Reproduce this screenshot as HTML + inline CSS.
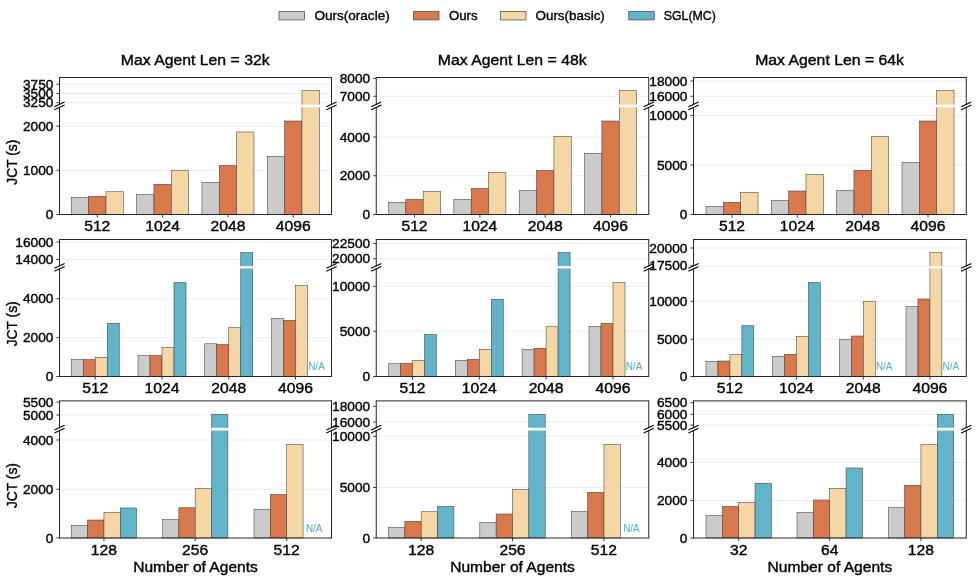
<!DOCTYPE html>
<html lang="en"><head><meta charset="utf-8"><title>JCT comparison</title>
<style>html,body{margin:0;padding:0;background:#fff;}body{width:977px;height:580px;overflow:hidden;}svg{display:block;will-change:transform;}text{font-family:"Liberation Sans", sans-serif;}</style></head>
<body>
<svg width="977" height="580" viewBox="0 0 977 580" font-family='"Liberation Sans", sans-serif'>
<rect x="0" y="0" width="977" height="580" fill="#ffffff"/>
<rect x="279" y="11.4" width="25.5" height="8.5" fill="#cbcbcb" stroke="#555555" stroke-width="0.8"/>
<text x="314.5" y="20" font-size="12.46" fill="#000" stroke="#000" stroke-width="0.36" textLength="75.17" lengthAdjust="spacingAndGlyphs">Ours(oracle)</text>
<rect x="413.5" y="11.4" width="25.5" height="8.5" fill="#d9774d" stroke="#555555" stroke-width="0.8"/>
<text x="449" y="20" font-size="12.46" fill="#000" stroke="#000" stroke-width="0.36" textLength="28.47" lengthAdjust="spacingAndGlyphs">Ours</text>
<rect x="500.5" y="11.4" width="25.5" height="8.5" fill="#f5d6a5" stroke="#555555" stroke-width="0.8"/>
<text x="535.5" y="20" font-size="12.46" fill="#000" stroke="#000" stroke-width="0.36" textLength="69.33" lengthAdjust="spacingAndGlyphs">Ours(basic)</text>
<rect x="628.75" y="11.4" width="25.5" height="8.5" fill="#62b4ca" stroke="#555555" stroke-width="0.8"/>
<text x="663.75" y="20" font-size="12.46" fill="#000" stroke="#000" stroke-width="0.36" textLength="52.13" lengthAdjust="spacingAndGlyphs">SGL(MC)</text>
<line x1="59.5" y1="170.25" x2="331.5" y2="170.25" stroke="#e9e9e9" stroke-width="0.8"/>
<line x1="59.5" y1="126.25" x2="331.5" y2="126.25" stroke="#e9e9e9" stroke-width="0.8"/>
<line x1="59.5" y1="102.75" x2="331.5" y2="102.75" stroke="#e9e9e9" stroke-width="0.8"/>
<line x1="59.5" y1="93.5" x2="331.5" y2="93.5" stroke="#e9e9e9" stroke-width="0.8"/>
<line x1="59.5" y1="84.2" x2="331.5" y2="84.2" stroke="#e9e9e9" stroke-width="0.8"/>
<rect x="71.25" y="197.5" width="17.35" height="17" fill="#cbcbcb" stroke="#404040" stroke-width="0.55"/>
<rect x="88.6" y="196.25" width="17.35" height="18.25" fill="#d9774d" stroke="#404040" stroke-width="0.55"/>
<rect x="105.95" y="191.75" width="17.35" height="22.75" fill="#f5d6a5" stroke="#404040" stroke-width="0.55"/>
<rect x="136.6" y="194.5" width="17.35" height="20" fill="#cbcbcb" stroke="#404040" stroke-width="0.55"/>
<rect x="153.95" y="184.25" width="17.35" height="30.25" fill="#d9774d" stroke="#404040" stroke-width="0.55"/>
<rect x="171.3" y="170.25" width="17.35" height="44.25" fill="#f5d6a5" stroke="#404040" stroke-width="0.55"/>
<rect x="201.9" y="182.25" width="17.35" height="32.25" fill="#cbcbcb" stroke="#404040" stroke-width="0.55"/>
<rect x="219.25" y="165.5" width="17.35" height="49" fill="#d9774d" stroke="#404040" stroke-width="0.55"/>
<rect x="236.6" y="132" width="17.35" height="82.5" fill="#f5d6a5" stroke="#404040" stroke-width="0.55"/>
<rect x="267.25" y="156.25" width="17.35" height="58.25" fill="#cbcbcb" stroke="#404040" stroke-width="0.55"/>
<rect x="284.6" y="121" width="17.35" height="93.5" fill="#d9774d" stroke="#404040" stroke-width="0.55"/>
<rect x="301.95" y="90.5" width="17.35" height="124" fill="#f5d6a5" stroke="#404040" stroke-width="0.55"/>
<rect x="301.15" y="104.6" width="18.95" height="2.7" fill="#ffffff"/>
<line x1="59.5" y1="77" x2="59.5" y2="215" stroke="#262626" stroke-width="1"/>
<line x1="331.5" y1="77" x2="331.5" y2="215" stroke="#262626" stroke-width="1"/>
<line x1="59.5" y1="77.5" x2="331.5" y2="77.5" stroke="#262626" stroke-width="1"/>
<line x1="59.5" y1="214.5" x2="331.5" y2="214.5" stroke="#262626" stroke-width="1"/>
<rect x="58.3" y="104.85" width="2.4" height="2.2" fill="#ffffff"/>
<line x1="54.4" y1="106.85" x2="64.6" y2="102.05" stroke="#000" stroke-width="1.1"/>
<line x1="54.4" y1="109.85" x2="64.6" y2="105.05" stroke="#000" stroke-width="1.1"/>
<rect x="330.3" y="104.85" width="2.4" height="2.2" fill="#ffffff"/>
<line x1="326.4" y1="106.85" x2="336.6" y2="102.05" stroke="#000" stroke-width="1.1"/>
<line x1="326.4" y1="109.85" x2="336.6" y2="105.05" stroke="#000" stroke-width="1.1"/>
<line x1="56.4" y1="214.5" x2="59.5" y2="214.5" stroke="#262626" stroke-width="0.9"/>
<text x="45.87" y="219" font-size="12.57" fill="#000" stroke="#000" stroke-width="0.36" textLength="7.63" lengthAdjust="spacingAndGlyphs">0</text>
<line x1="56.4" y1="170.25" x2="59.5" y2="170.25" stroke="#262626" stroke-width="0.9"/>
<text x="22.96" y="174.75" font-size="12.57" fill="#000" stroke="#000" stroke-width="0.36" textLength="30.54" lengthAdjust="spacingAndGlyphs">1000</text>
<line x1="56.4" y1="126.25" x2="59.5" y2="126.25" stroke="#262626" stroke-width="0.9"/>
<text x="22.96" y="130.75" font-size="12.57" fill="#000" stroke="#000" stroke-width="0.36" textLength="30.54" lengthAdjust="spacingAndGlyphs">2000</text>
<line x1="56.4" y1="102.75" x2="59.5" y2="102.75" stroke="#262626" stroke-width="0.9"/>
<text x="22.96" y="107.25" font-size="12.57" fill="#000" stroke="#000" stroke-width="0.36" textLength="30.54" lengthAdjust="spacingAndGlyphs">3250</text>
<line x1="56.4" y1="93.5" x2="59.5" y2="93.5" stroke="#262626" stroke-width="0.9"/>
<text x="22.96" y="98" font-size="12.57" fill="#000" stroke="#000" stroke-width="0.36" textLength="30.54" lengthAdjust="spacingAndGlyphs">3500</text>
<line x1="56.4" y1="84.2" x2="59.5" y2="84.2" stroke="#262626" stroke-width="0.9"/>
<text x="22.96" y="88.7" font-size="12.57" fill="#000" stroke="#000" stroke-width="0.36" textLength="30.54" lengthAdjust="spacingAndGlyphs">3750</text>
<line x1="97.28" y1="214.5" x2="97.28" y2="217.6" stroke="#262626" stroke-width="0.9"/>
<text x="84.2" y="231.2" font-size="14.11" fill="#000" stroke="#000" stroke-width="0.36" textLength="26.15" lengthAdjust="spacingAndGlyphs">512</text>
<line x1="162.62" y1="214.5" x2="162.62" y2="217.6" stroke="#262626" stroke-width="0.9"/>
<text x="145.19" y="231.2" font-size="14.11" fill="#000" stroke="#000" stroke-width="0.36" textLength="34.87" lengthAdjust="spacingAndGlyphs">1024</text>
<line x1="227.93" y1="214.5" x2="227.93" y2="217.6" stroke="#262626" stroke-width="0.9"/>
<text x="210.49" y="231.2" font-size="14.11" fill="#000" stroke="#000" stroke-width="0.36" textLength="34.87" lengthAdjust="spacingAndGlyphs">2048</text>
<line x1="293.27" y1="214.5" x2="293.27" y2="217.6" stroke="#262626" stroke-width="0.9"/>
<text x="275.84" y="231.2" font-size="14.11" fill="#000" stroke="#000" stroke-width="0.36" textLength="34.87" lengthAdjust="spacingAndGlyphs">4096</text>
<text x="120.8" y="65" font-size="14.11" fill="#000" stroke="#000" stroke-width="0.36" textLength="148.8" lengthAdjust="spacingAndGlyphs">Max Agent Len = 32k</text>
<text transform="translate(17.0 162.2) rotate(-90)" x="-22.5" y="0" font-size="14.11" fill="#000" stroke="#000" stroke-width="0.36" textLength="45" lengthAdjust="spacingAndGlyphs">JCT (s)</text>
<line x1="376.25" y1="175.75" x2="648.75" y2="175.75" stroke="#e9e9e9" stroke-width="0.8"/>
<line x1="376.25" y1="137" x2="648.75" y2="137" stroke="#e9e9e9" stroke-width="0.8"/>
<line x1="376.25" y1="96.25" x2="648.75" y2="96.25" stroke="#e9e9e9" stroke-width="0.8"/>
<rect x="388.5" y="202.25" width="17.35" height="12.25" fill="#cbcbcb" stroke="#404040" stroke-width="0.55"/>
<rect x="405.85" y="199.25" width="17.35" height="15.25" fill="#d9774d" stroke="#404040" stroke-width="0.55"/>
<rect x="423.2" y="191.25" width="17.35" height="23.25" fill="#f5d6a5" stroke="#404040" stroke-width="0.55"/>
<rect x="453.85" y="199.5" width="17.35" height="15" fill="#cbcbcb" stroke="#404040" stroke-width="0.55"/>
<rect x="471.2" y="188.5" width="17.35" height="26" fill="#d9774d" stroke="#404040" stroke-width="0.55"/>
<rect x="488.55" y="172.5" width="17.35" height="42" fill="#f5d6a5" stroke="#404040" stroke-width="0.55"/>
<rect x="519.2" y="190.5" width="17.35" height="24" fill="#cbcbcb" stroke="#404040" stroke-width="0.55"/>
<rect x="536.55" y="170.5" width="17.35" height="44" fill="#d9774d" stroke="#404040" stroke-width="0.55"/>
<rect x="553.9" y="136.25" width="17.35" height="78.25" fill="#f5d6a5" stroke="#404040" stroke-width="0.55"/>
<rect x="584.55" y="153.25" width="17.35" height="61.25" fill="#cbcbcb" stroke="#404040" stroke-width="0.55"/>
<rect x="601.9" y="121" width="17.35" height="93.5" fill="#d9774d" stroke="#404040" stroke-width="0.55"/>
<rect x="619.25" y="90.5" width="17.35" height="124" fill="#f5d6a5" stroke="#404040" stroke-width="0.55"/>
<rect x="618.45" y="104.6" width="18.95" height="2.7" fill="#ffffff"/>
<line x1="376.25" y1="77" x2="376.25" y2="215" stroke="#262626" stroke-width="1"/>
<line x1="648.75" y1="77" x2="648.75" y2="215" stroke="#262626" stroke-width="1"/>
<line x1="376.25" y1="77.5" x2="648.75" y2="77.5" stroke="#262626" stroke-width="1"/>
<line x1="376.25" y1="214.5" x2="648.75" y2="214.5" stroke="#262626" stroke-width="1"/>
<rect x="375.05" y="104.85" width="2.4" height="2.2" fill="#ffffff"/>
<line x1="371.15" y1="106.85" x2="381.35" y2="102.05" stroke="#000" stroke-width="1.1"/>
<line x1="371.15" y1="109.85" x2="381.35" y2="105.05" stroke="#000" stroke-width="1.1"/>
<rect x="647.55" y="104.85" width="2.4" height="2.2" fill="#ffffff"/>
<line x1="643.65" y1="106.85" x2="653.85" y2="102.05" stroke="#000" stroke-width="1.1"/>
<line x1="643.65" y1="109.85" x2="653.85" y2="105.05" stroke="#000" stroke-width="1.1"/>
<line x1="373.15" y1="214.5" x2="376.25" y2="214.5" stroke="#262626" stroke-width="0.9"/>
<text x="362.62" y="219" font-size="12.57" fill="#000" stroke="#000" stroke-width="0.36" textLength="7.63" lengthAdjust="spacingAndGlyphs">0</text>
<line x1="373.15" y1="175.75" x2="376.25" y2="175.75" stroke="#262626" stroke-width="0.9"/>
<text x="339.71" y="180.25" font-size="12.57" fill="#000" stroke="#000" stroke-width="0.36" textLength="30.54" lengthAdjust="spacingAndGlyphs">2000</text>
<line x1="373.15" y1="137" x2="376.25" y2="137" stroke="#262626" stroke-width="0.9"/>
<text x="339.71" y="141.5" font-size="12.57" fill="#000" stroke="#000" stroke-width="0.36" textLength="30.54" lengthAdjust="spacingAndGlyphs">4000</text>
<line x1="373.15" y1="96.25" x2="376.25" y2="96.25" stroke="#262626" stroke-width="0.9"/>
<text x="339.71" y="100.75" font-size="12.57" fill="#000" stroke="#000" stroke-width="0.36" textLength="30.54" lengthAdjust="spacingAndGlyphs">7000</text>
<line x1="373.15" y1="78.5" x2="376.25" y2="78.5" stroke="#262626" stroke-width="0.9"/>
<text x="339.71" y="83" font-size="12.57" fill="#000" stroke="#000" stroke-width="0.36" textLength="30.54" lengthAdjust="spacingAndGlyphs">8000</text>
<line x1="414.52" y1="214.5" x2="414.52" y2="217.6" stroke="#262626" stroke-width="0.9"/>
<text x="401.45" y="231.2" font-size="14.11" fill="#000" stroke="#000" stroke-width="0.36" textLength="26.15" lengthAdjust="spacingAndGlyphs">512</text>
<line x1="479.88" y1="214.5" x2="479.88" y2="217.6" stroke="#262626" stroke-width="0.9"/>
<text x="462.44" y="231.2" font-size="14.11" fill="#000" stroke="#000" stroke-width="0.36" textLength="34.87" lengthAdjust="spacingAndGlyphs">1024</text>
<line x1="545.23" y1="214.5" x2="545.23" y2="217.6" stroke="#262626" stroke-width="0.9"/>
<text x="527.79" y="231.2" font-size="14.11" fill="#000" stroke="#000" stroke-width="0.36" textLength="34.87" lengthAdjust="spacingAndGlyphs">2048</text>
<line x1="610.57" y1="214.5" x2="610.57" y2="217.6" stroke="#262626" stroke-width="0.9"/>
<text x="593.14" y="231.2" font-size="14.11" fill="#000" stroke="#000" stroke-width="0.36" textLength="34.87" lengthAdjust="spacingAndGlyphs">4096</text>
<text x="437.8" y="65" font-size="14.11" fill="#000" stroke="#000" stroke-width="0.36" textLength="148.8" lengthAdjust="spacingAndGlyphs">Max Agent Len = 48k</text>
<line x1="693.5" y1="165" x2="966.25" y2="165" stroke="#e9e9e9" stroke-width="0.8"/>
<line x1="693.5" y1="115.5" x2="966.25" y2="115.5" stroke="#e9e9e9" stroke-width="0.8"/>
<line x1="693.5" y1="96.25" x2="966.25" y2="96.25" stroke="#e9e9e9" stroke-width="0.8"/>
<line x1="693.5" y1="81" x2="966.25" y2="81" stroke="#e9e9e9" stroke-width="0.8"/>
<rect x="706" y="206.25" width="17.35" height="8.25" fill="#cbcbcb" stroke="#404040" stroke-width="0.55"/>
<rect x="723.35" y="202.25" width="17.35" height="12.25" fill="#d9774d" stroke="#404040" stroke-width="0.55"/>
<rect x="740.7" y="192.25" width="17.35" height="22.25" fill="#f5d6a5" stroke="#404040" stroke-width="0.55"/>
<rect x="771.3" y="200.25" width="17.35" height="14.25" fill="#cbcbcb" stroke="#404040" stroke-width="0.55"/>
<rect x="788.65" y="191" width="17.35" height="23.5" fill="#d9774d" stroke="#404040" stroke-width="0.55"/>
<rect x="806" y="174.25" width="17.35" height="40.25" fill="#f5d6a5" stroke="#404040" stroke-width="0.55"/>
<rect x="836.6" y="190.25" width="17.35" height="24.25" fill="#cbcbcb" stroke="#404040" stroke-width="0.55"/>
<rect x="853.95" y="170.25" width="17.35" height="44.25" fill="#d9774d" stroke="#404040" stroke-width="0.55"/>
<rect x="871.3" y="136.25" width="17.35" height="78.25" fill="#f5d6a5" stroke="#404040" stroke-width="0.55"/>
<rect x="902" y="162.25" width="17.35" height="52.25" fill="#cbcbcb" stroke="#404040" stroke-width="0.55"/>
<rect x="919.35" y="121" width="17.35" height="93.5" fill="#d9774d" stroke="#404040" stroke-width="0.55"/>
<rect x="936.7" y="90.5" width="17.35" height="124" fill="#f5d6a5" stroke="#404040" stroke-width="0.55"/>
<rect x="935.9" y="104.6" width="18.95" height="2.7" fill="#ffffff"/>
<line x1="693.5" y1="77" x2="693.5" y2="215" stroke="#262626" stroke-width="1"/>
<line x1="966.25" y1="77" x2="966.25" y2="215" stroke="#262626" stroke-width="1"/>
<line x1="693.5" y1="77.5" x2="966.25" y2="77.5" stroke="#262626" stroke-width="1"/>
<line x1="693.5" y1="214.5" x2="966.25" y2="214.5" stroke="#262626" stroke-width="1"/>
<rect x="692.3" y="104.85" width="2.4" height="2.2" fill="#ffffff"/>
<line x1="688.4" y1="106.85" x2="698.6" y2="102.05" stroke="#000" stroke-width="1.1"/>
<line x1="688.4" y1="109.85" x2="698.6" y2="105.05" stroke="#000" stroke-width="1.1"/>
<rect x="965.05" y="104.85" width="2.4" height="2.2" fill="#ffffff"/>
<line x1="961.15" y1="106.85" x2="971.35" y2="102.05" stroke="#000" stroke-width="1.1"/>
<line x1="961.15" y1="109.85" x2="971.35" y2="105.05" stroke="#000" stroke-width="1.1"/>
<line x1="690.4" y1="214.5" x2="693.5" y2="214.5" stroke="#262626" stroke-width="0.9"/>
<text x="679.87" y="219" font-size="12.57" fill="#000" stroke="#000" stroke-width="0.36" textLength="7.63" lengthAdjust="spacingAndGlyphs">0</text>
<line x1="690.4" y1="165" x2="693.5" y2="165" stroke="#262626" stroke-width="0.9"/>
<text x="656.96" y="169.5" font-size="12.57" fill="#000" stroke="#000" stroke-width="0.36" textLength="30.54" lengthAdjust="spacingAndGlyphs">5000</text>
<line x1="690.4" y1="115.5" x2="693.5" y2="115.5" stroke="#262626" stroke-width="0.9"/>
<text x="649.33" y="120" font-size="12.57" fill="#000" stroke="#000" stroke-width="0.36" textLength="38.17" lengthAdjust="spacingAndGlyphs">10000</text>
<line x1="690.4" y1="96.25" x2="693.5" y2="96.25" stroke="#262626" stroke-width="0.9"/>
<text x="649.33" y="100.75" font-size="12.57" fill="#000" stroke="#000" stroke-width="0.36" textLength="38.17" lengthAdjust="spacingAndGlyphs">16000</text>
<line x1="690.4" y1="81" x2="693.5" y2="81" stroke="#262626" stroke-width="0.9"/>
<text x="649.33" y="85.5" font-size="12.57" fill="#000" stroke="#000" stroke-width="0.36" textLength="38.17" lengthAdjust="spacingAndGlyphs">18000</text>
<line x1="732.02" y1="214.5" x2="732.02" y2="217.6" stroke="#262626" stroke-width="0.9"/>
<text x="718.95" y="231.2" font-size="14.11" fill="#000" stroke="#000" stroke-width="0.36" textLength="26.15" lengthAdjust="spacingAndGlyphs">512</text>
<line x1="797.32" y1="214.5" x2="797.32" y2="217.6" stroke="#262626" stroke-width="0.9"/>
<text x="779.89" y="231.2" font-size="14.11" fill="#000" stroke="#000" stroke-width="0.36" textLength="34.87" lengthAdjust="spacingAndGlyphs">1024</text>
<line x1="862.62" y1="214.5" x2="862.62" y2="217.6" stroke="#262626" stroke-width="0.9"/>
<text x="845.19" y="231.2" font-size="14.11" fill="#000" stroke="#000" stroke-width="0.36" textLength="34.87" lengthAdjust="spacingAndGlyphs">2048</text>
<line x1="928.02" y1="214.5" x2="928.02" y2="217.6" stroke="#262626" stroke-width="0.9"/>
<text x="910.59" y="231.2" font-size="14.11" fill="#000" stroke="#000" stroke-width="0.36" textLength="34.87" lengthAdjust="spacingAndGlyphs">4096</text>
<text x="755.18" y="65" font-size="14.11" fill="#000" stroke="#000" stroke-width="0.36" textLength="148.8" lengthAdjust="spacingAndGlyphs">Max Agent Len = 64k</text>
<line x1="59.5" y1="337.6" x2="331.5" y2="337.6" stroke="#e9e9e9" stroke-width="0.8"/>
<line x1="59.5" y1="298.75" x2="331.5" y2="298.75" stroke="#e9e9e9" stroke-width="0.8"/>
<line x1="59.5" y1="259.5" x2="331.5" y2="259.5" stroke="#e9e9e9" stroke-width="0.8"/>
<line x1="59.5" y1="242" x2="331.5" y2="242" stroke="#e9e9e9" stroke-width="0.8"/>
<rect x="71.25" y="359.5" width="12" height="17" fill="#cbcbcb" stroke="#404040" stroke-width="0.55"/>
<rect x="83.25" y="359.5" width="12" height="17" fill="#d9774d" stroke="#404040" stroke-width="0.55"/>
<rect x="95.25" y="357.25" width="12" height="19.25" fill="#f5d6a5" stroke="#404040" stroke-width="0.55"/>
<rect x="107.25" y="323.25" width="12" height="53.25" fill="#62b4ca" stroke="#404040" stroke-width="0.55"/>
<rect x="138" y="355.5" width="12" height="21" fill="#cbcbcb" stroke="#404040" stroke-width="0.55"/>
<rect x="150" y="355.5" width="12" height="21" fill="#d9774d" stroke="#404040" stroke-width="0.55"/>
<rect x="162" y="347.25" width="12" height="29.25" fill="#f5d6a5" stroke="#404040" stroke-width="0.55"/>
<rect x="174" y="282.5" width="12" height="94" fill="#62b4ca" stroke="#404040" stroke-width="0.55"/>
<rect x="204.75" y="343.75" width="12" height="32.75" fill="#cbcbcb" stroke="#404040" stroke-width="0.55"/>
<rect x="216.75" y="344.5" width="12" height="32" fill="#d9774d" stroke="#404040" stroke-width="0.55"/>
<rect x="228.75" y="327.5" width="12" height="49" fill="#f5d6a5" stroke="#404040" stroke-width="0.55"/>
<rect x="240.75" y="252.5" width="12" height="124" fill="#62b4ca" stroke="#404040" stroke-width="0.55"/>
<rect x="239.95" y="266.1" width="13.6" height="2.4" fill="#ffffff"/>
<rect x="271.5" y="318.25" width="12" height="58.25" fill="#cbcbcb" stroke="#404040" stroke-width="0.55"/>
<rect x="283.5" y="320.25" width="12" height="56.25" fill="#d9774d" stroke="#404040" stroke-width="0.55"/>
<rect x="295.5" y="285.5" width="12" height="91" fill="#f5d6a5" stroke="#404040" stroke-width="0.55"/>
<text x="308.2" y="370" font-size="10.23" fill="#5fb0c8" stroke="#5fb0c8" stroke-width="0.1" textLength="16.6" lengthAdjust="spacingAndGlyphs">N/A</text>
<line x1="59.5" y1="239" x2="59.5" y2="377" stroke="#262626" stroke-width="1"/>
<line x1="331.5" y1="239" x2="331.5" y2="377" stroke="#262626" stroke-width="1"/>
<line x1="59.5" y1="239.5" x2="331.5" y2="239.5" stroke="#262626" stroke-width="1"/>
<line x1="59.5" y1="376.5" x2="331.5" y2="376.5" stroke="#262626" stroke-width="1"/>
<rect x="58.3" y="266.2" width="2.4" height="2.2" fill="#ffffff"/>
<line x1="54.4" y1="268.2" x2="64.6" y2="263.4" stroke="#000" stroke-width="1.1"/>
<line x1="54.4" y1="271.2" x2="64.6" y2="266.4" stroke="#000" stroke-width="1.1"/>
<rect x="330.3" y="266.2" width="2.4" height="2.2" fill="#ffffff"/>
<line x1="326.4" y1="268.2" x2="336.6" y2="263.4" stroke="#000" stroke-width="1.1"/>
<line x1="326.4" y1="271.2" x2="336.6" y2="266.4" stroke="#000" stroke-width="1.1"/>
<line x1="56.4" y1="376.5" x2="59.5" y2="376.5" stroke="#262626" stroke-width="0.9"/>
<text x="45.87" y="381" font-size="12.57" fill="#000" stroke="#000" stroke-width="0.36" textLength="7.63" lengthAdjust="spacingAndGlyphs">0</text>
<line x1="56.4" y1="337.6" x2="59.5" y2="337.6" stroke="#262626" stroke-width="0.9"/>
<text x="22.96" y="342.1" font-size="12.57" fill="#000" stroke="#000" stroke-width="0.36" textLength="30.54" lengthAdjust="spacingAndGlyphs">2000</text>
<line x1="56.4" y1="298.75" x2="59.5" y2="298.75" stroke="#262626" stroke-width="0.9"/>
<text x="22.96" y="303.25" font-size="12.57" fill="#000" stroke="#000" stroke-width="0.36" textLength="30.54" lengthAdjust="spacingAndGlyphs">4000</text>
<line x1="56.4" y1="259.5" x2="59.5" y2="259.5" stroke="#262626" stroke-width="0.9"/>
<text x="15.33" y="264" font-size="12.57" fill="#000" stroke="#000" stroke-width="0.36" textLength="38.17" lengthAdjust="spacingAndGlyphs">14000</text>
<line x1="56.4" y1="242" x2="59.5" y2="242" stroke="#262626" stroke-width="0.9"/>
<text x="15.33" y="246.5" font-size="12.57" fill="#000" stroke="#000" stroke-width="0.36" textLength="38.17" lengthAdjust="spacingAndGlyphs">16000</text>
<line x1="95.25" y1="376.5" x2="95.25" y2="379.6" stroke="#262626" stroke-width="0.9"/>
<text x="82.18" y="393.2" font-size="14.11" fill="#000" stroke="#000" stroke-width="0.36" textLength="26.15" lengthAdjust="spacingAndGlyphs">512</text>
<line x1="162" y1="376.5" x2="162" y2="379.6" stroke="#262626" stroke-width="0.9"/>
<text x="144.57" y="393.2" font-size="14.11" fill="#000" stroke="#000" stroke-width="0.36" textLength="34.87" lengthAdjust="spacingAndGlyphs">1024</text>
<line x1="228.75" y1="376.5" x2="228.75" y2="379.6" stroke="#262626" stroke-width="0.9"/>
<text x="211.32" y="393.2" font-size="14.11" fill="#000" stroke="#000" stroke-width="0.36" textLength="34.87" lengthAdjust="spacingAndGlyphs">2048</text>
<line x1="295.5" y1="376.5" x2="295.5" y2="379.6" stroke="#262626" stroke-width="0.9"/>
<text x="278.07" y="393.2" font-size="14.11" fill="#000" stroke="#000" stroke-width="0.36" textLength="34.87" lengthAdjust="spacingAndGlyphs">4096</text>
<text transform="translate(17.0 323.8) rotate(-90)" x="-22.5" y="0" font-size="14.11" fill="#000" stroke="#000" stroke-width="0.36" textLength="45" lengthAdjust="spacingAndGlyphs">JCT (s)</text>
<line x1="376.25" y1="331.25" x2="648.75" y2="331.25" stroke="#e9e9e9" stroke-width="0.8"/>
<line x1="376.25" y1="286.25" x2="648.75" y2="286.25" stroke="#e9e9e9" stroke-width="0.8"/>
<line x1="376.25" y1="258.75" x2="648.75" y2="258.75" stroke="#e9e9e9" stroke-width="0.8"/>
<line x1="376.25" y1="243.5" x2="648.75" y2="243.5" stroke="#e9e9e9" stroke-width="0.8"/>
<rect x="388.5" y="363.75" width="12" height="12.75" fill="#cbcbcb" stroke="#404040" stroke-width="0.55"/>
<rect x="400.5" y="363.25" width="12" height="13.25" fill="#d9774d" stroke="#404040" stroke-width="0.55"/>
<rect x="412.5" y="360.25" width="12" height="16.25" fill="#f5d6a5" stroke="#404040" stroke-width="0.55"/>
<rect x="424.5" y="334.5" width="12" height="42" fill="#62b4ca" stroke="#404040" stroke-width="0.55"/>
<rect x="455.3" y="360.25" width="12" height="16.25" fill="#cbcbcb" stroke="#404040" stroke-width="0.55"/>
<rect x="467.3" y="359.25" width="12" height="17.25" fill="#d9774d" stroke="#404040" stroke-width="0.55"/>
<rect x="479.3" y="349.25" width="12" height="27.25" fill="#f5d6a5" stroke="#404040" stroke-width="0.55"/>
<rect x="491.3" y="299.25" width="12" height="77.25" fill="#62b4ca" stroke="#404040" stroke-width="0.55"/>
<rect x="522.1" y="349.25" width="12" height="27.25" fill="#cbcbcb" stroke="#404040" stroke-width="0.55"/>
<rect x="534.1" y="348.25" width="12" height="28.25" fill="#d9774d" stroke="#404040" stroke-width="0.55"/>
<rect x="546.1" y="326.75" width="12" height="49.75" fill="#f5d6a5" stroke="#404040" stroke-width="0.55"/>
<rect x="558.1" y="252.5" width="12" height="124" fill="#62b4ca" stroke="#404040" stroke-width="0.55"/>
<rect x="557.3" y="266.1" width="13.6" height="2.4" fill="#ffffff"/>
<rect x="589" y="326.25" width="12" height="50.25" fill="#cbcbcb" stroke="#404040" stroke-width="0.55"/>
<rect x="601" y="323.25" width="12" height="53.25" fill="#d9774d" stroke="#404040" stroke-width="0.55"/>
<rect x="613" y="282.5" width="12" height="94" fill="#f5d6a5" stroke="#404040" stroke-width="0.55"/>
<text x="625.7" y="370" font-size="10.23" fill="#5fb0c8" stroke="#5fb0c8" stroke-width="0.1" textLength="16.6" lengthAdjust="spacingAndGlyphs">N/A</text>
<line x1="376.25" y1="239" x2="376.25" y2="377" stroke="#262626" stroke-width="1"/>
<line x1="648.75" y1="239" x2="648.75" y2="377" stroke="#262626" stroke-width="1"/>
<line x1="376.25" y1="239.5" x2="648.75" y2="239.5" stroke="#262626" stroke-width="1"/>
<line x1="376.25" y1="376.5" x2="648.75" y2="376.5" stroke="#262626" stroke-width="1"/>
<rect x="375.05" y="266.2" width="2.4" height="2.2" fill="#ffffff"/>
<line x1="371.15" y1="268.2" x2="381.35" y2="263.4" stroke="#000" stroke-width="1.1"/>
<line x1="371.15" y1="271.2" x2="381.35" y2="266.4" stroke="#000" stroke-width="1.1"/>
<rect x="647.55" y="266.2" width="2.4" height="2.2" fill="#ffffff"/>
<line x1="643.65" y1="268.2" x2="653.85" y2="263.4" stroke="#000" stroke-width="1.1"/>
<line x1="643.65" y1="271.2" x2="653.85" y2="266.4" stroke="#000" stroke-width="1.1"/>
<line x1="373.15" y1="376.5" x2="376.25" y2="376.5" stroke="#262626" stroke-width="0.9"/>
<text x="362.62" y="381" font-size="12.57" fill="#000" stroke="#000" stroke-width="0.36" textLength="7.63" lengthAdjust="spacingAndGlyphs">0</text>
<line x1="373.15" y1="331.25" x2="376.25" y2="331.25" stroke="#262626" stroke-width="0.9"/>
<text x="339.71" y="335.75" font-size="12.57" fill="#000" stroke="#000" stroke-width="0.36" textLength="30.54" lengthAdjust="spacingAndGlyphs">5000</text>
<line x1="373.15" y1="286.25" x2="376.25" y2="286.25" stroke="#262626" stroke-width="0.9"/>
<text x="332.07" y="290.75" font-size="12.57" fill="#000" stroke="#000" stroke-width="0.36" textLength="38.17" lengthAdjust="spacingAndGlyphs">10000</text>
<line x1="373.15" y1="258.75" x2="376.25" y2="258.75" stroke="#262626" stroke-width="0.9"/>
<text x="332.07" y="263.25" font-size="12.57" fill="#000" stroke="#000" stroke-width="0.36" textLength="38.17" lengthAdjust="spacingAndGlyphs">20000</text>
<line x1="373.15" y1="243.5" x2="376.25" y2="243.5" stroke="#262626" stroke-width="0.9"/>
<text x="332.07" y="248" font-size="12.57" fill="#000" stroke="#000" stroke-width="0.36" textLength="38.17" lengthAdjust="spacingAndGlyphs">22500</text>
<line x1="412.5" y1="376.5" x2="412.5" y2="379.6" stroke="#262626" stroke-width="0.9"/>
<text x="399.43" y="393.2" font-size="14.11" fill="#000" stroke="#000" stroke-width="0.36" textLength="26.15" lengthAdjust="spacingAndGlyphs">512</text>
<line x1="479.3" y1="376.5" x2="479.3" y2="379.6" stroke="#262626" stroke-width="0.9"/>
<text x="461.87" y="393.2" font-size="14.11" fill="#000" stroke="#000" stroke-width="0.36" textLength="34.87" lengthAdjust="spacingAndGlyphs">1024</text>
<line x1="546.1" y1="376.5" x2="546.1" y2="379.6" stroke="#262626" stroke-width="0.9"/>
<text x="528.67" y="393.2" font-size="14.11" fill="#000" stroke="#000" stroke-width="0.36" textLength="34.87" lengthAdjust="spacingAndGlyphs">2048</text>
<line x1="613" y1="376.5" x2="613" y2="379.6" stroke="#262626" stroke-width="0.9"/>
<text x="595.57" y="393.2" font-size="14.11" fill="#000" stroke="#000" stroke-width="0.36" textLength="34.87" lengthAdjust="spacingAndGlyphs">4096</text>
<line x1="693.5" y1="339.25" x2="966.25" y2="339.25" stroke="#e9e9e9" stroke-width="0.8"/>
<line x1="693.5" y1="301.25" x2="966.25" y2="301.25" stroke="#e9e9e9" stroke-width="0.8"/>
<line x1="693.5" y1="265.75" x2="966.25" y2="265.75" stroke="#e9e9e9" stroke-width="0.8"/>
<line x1="693.5" y1="248" x2="966.25" y2="248" stroke="#e9e9e9" stroke-width="0.8"/>
<rect x="706" y="361.25" width="11.95" height="15.25" fill="#cbcbcb" stroke="#404040" stroke-width="0.55"/>
<rect x="717.95" y="361" width="11.95" height="15.5" fill="#d9774d" stroke="#404040" stroke-width="0.55"/>
<rect x="729.9" y="354.5" width="11.95" height="22" fill="#f5d6a5" stroke="#404040" stroke-width="0.55"/>
<rect x="741.85" y="325.75" width="11.95" height="50.75" fill="#62b4ca" stroke="#404040" stroke-width="0.55"/>
<rect x="772.5" y="356.25" width="11.95" height="20.25" fill="#cbcbcb" stroke="#404040" stroke-width="0.55"/>
<rect x="784.45" y="354.25" width="11.95" height="22.25" fill="#d9774d" stroke="#404040" stroke-width="0.55"/>
<rect x="796.4" y="336.25" width="11.95" height="40.25" fill="#f5d6a5" stroke="#404040" stroke-width="0.55"/>
<rect x="808.35" y="282.5" width="11.95" height="94" fill="#62b4ca" stroke="#404040" stroke-width="0.55"/>
<rect x="839.4" y="339.25" width="11.95" height="37.25" fill="#cbcbcb" stroke="#404040" stroke-width="0.55"/>
<rect x="851.35" y="336" width="11.95" height="40.5" fill="#d9774d" stroke="#404040" stroke-width="0.55"/>
<rect x="863.3" y="301.25" width="11.95" height="75.25" fill="#f5d6a5" stroke="#404040" stroke-width="0.55"/>
<text x="875.93" y="370" font-size="10.23" fill="#5fb0c8" stroke="#5fb0c8" stroke-width="0.1" textLength="16.6" lengthAdjust="spacingAndGlyphs">N/A</text>
<rect x="906" y="306.5" width="11.95" height="70" fill="#cbcbcb" stroke="#404040" stroke-width="0.55"/>
<rect x="917.95" y="299" width="11.95" height="77.5" fill="#d9774d" stroke="#404040" stroke-width="0.55"/>
<rect x="929.9" y="252.5" width="11.95" height="124" fill="#f5d6a5" stroke="#404040" stroke-width="0.55"/>
<rect x="929.1" y="266.1" width="13.55" height="2.4" fill="#ffffff"/>
<text x="942.53" y="370" font-size="10.23" fill="#5fb0c8" stroke="#5fb0c8" stroke-width="0.1" textLength="16.6" lengthAdjust="spacingAndGlyphs">N/A</text>
<line x1="693.5" y1="239" x2="693.5" y2="377" stroke="#262626" stroke-width="1"/>
<line x1="966.25" y1="239" x2="966.25" y2="377" stroke="#262626" stroke-width="1"/>
<line x1="693.5" y1="239.5" x2="966.25" y2="239.5" stroke="#262626" stroke-width="1"/>
<line x1="693.5" y1="376.5" x2="966.25" y2="376.5" stroke="#262626" stroke-width="1"/>
<rect x="692.3" y="266.2" width="2.4" height="2.2" fill="#ffffff"/>
<line x1="688.4" y1="268.2" x2="698.6" y2="263.4" stroke="#000" stroke-width="1.1"/>
<line x1="688.4" y1="271.2" x2="698.6" y2="266.4" stroke="#000" stroke-width="1.1"/>
<rect x="965.05" y="266.2" width="2.4" height="2.2" fill="#ffffff"/>
<line x1="961.15" y1="268.2" x2="971.35" y2="263.4" stroke="#000" stroke-width="1.1"/>
<line x1="961.15" y1="271.2" x2="971.35" y2="266.4" stroke="#000" stroke-width="1.1"/>
<line x1="690.4" y1="376.5" x2="693.5" y2="376.5" stroke="#262626" stroke-width="0.9"/>
<text x="679.87" y="381" font-size="12.57" fill="#000" stroke="#000" stroke-width="0.36" textLength="7.63" lengthAdjust="spacingAndGlyphs">0</text>
<line x1="690.4" y1="339.25" x2="693.5" y2="339.25" stroke="#262626" stroke-width="0.9"/>
<text x="656.96" y="343.75" font-size="12.57" fill="#000" stroke="#000" stroke-width="0.36" textLength="30.54" lengthAdjust="spacingAndGlyphs">5000</text>
<line x1="690.4" y1="301.25" x2="693.5" y2="301.25" stroke="#262626" stroke-width="0.9"/>
<text x="649.33" y="305.75" font-size="12.57" fill="#000" stroke="#000" stroke-width="0.36" textLength="38.17" lengthAdjust="spacingAndGlyphs">10000</text>
<line x1="690.4" y1="265.75" x2="693.5" y2="265.75" stroke="#262626" stroke-width="0.9"/>
<text x="649.33" y="270.25" font-size="12.57" fill="#000" stroke="#000" stroke-width="0.36" textLength="38.17" lengthAdjust="spacingAndGlyphs">17500</text>
<line x1="690.4" y1="248" x2="693.5" y2="248" stroke="#262626" stroke-width="0.9"/>
<text x="649.33" y="252.5" font-size="12.57" fill="#000" stroke="#000" stroke-width="0.36" textLength="38.17" lengthAdjust="spacingAndGlyphs">20000</text>
<line x1="729.9" y1="376.5" x2="729.9" y2="379.6" stroke="#262626" stroke-width="0.9"/>
<text x="716.83" y="393.2" font-size="14.11" fill="#000" stroke="#000" stroke-width="0.36" textLength="26.15" lengthAdjust="spacingAndGlyphs">512</text>
<line x1="796.4" y1="376.5" x2="796.4" y2="379.6" stroke="#262626" stroke-width="0.9"/>
<text x="778.97" y="393.2" font-size="14.11" fill="#000" stroke="#000" stroke-width="0.36" textLength="34.87" lengthAdjust="spacingAndGlyphs">1024</text>
<line x1="863.3" y1="376.5" x2="863.3" y2="379.6" stroke="#262626" stroke-width="0.9"/>
<text x="845.87" y="393.2" font-size="14.11" fill="#000" stroke="#000" stroke-width="0.36" textLength="34.87" lengthAdjust="spacingAndGlyphs">2048</text>
<line x1="929.9" y1="376.5" x2="929.9" y2="379.6" stroke="#262626" stroke-width="0.9"/>
<text x="912.47" y="393.2" font-size="14.11" fill="#000" stroke="#000" stroke-width="0.36" textLength="34.87" lengthAdjust="spacingAndGlyphs">4096</text>
<line x1="59.5" y1="489.25" x2="331.5" y2="489.25" stroke="#e9e9e9" stroke-width="0.8"/>
<line x1="59.5" y1="440" x2="331.5" y2="440" stroke="#e9e9e9" stroke-width="0.8"/>
<line x1="59.5" y1="415" x2="331.5" y2="415" stroke="#e9e9e9" stroke-width="0.8"/>
<rect x="71.25" y="525.5" width="16.35" height="12.5" fill="#cbcbcb" stroke="#404040" stroke-width="0.55"/>
<rect x="87.6" y="520" width="16.35" height="18" fill="#d9774d" stroke="#404040" stroke-width="0.55"/>
<rect x="103.95" y="512.5" width="16.35" height="25.5" fill="#f5d6a5" stroke="#404040" stroke-width="0.55"/>
<rect x="120.3" y="508" width="16.35" height="30" fill="#62b4ca" stroke="#404040" stroke-width="0.55"/>
<rect x="162.5" y="519.5" width="16.35" height="18.5" fill="#cbcbcb" stroke="#404040" stroke-width="0.55"/>
<rect x="178.85" y="507.75" width="16.35" height="30.25" fill="#d9774d" stroke="#404040" stroke-width="0.55"/>
<rect x="195.2" y="488.25" width="16.35" height="49.75" fill="#f5d6a5" stroke="#404040" stroke-width="0.55"/>
<rect x="211.55" y="414.25" width="16.35" height="123.75" fill="#62b4ca" stroke="#404040" stroke-width="0.55"/>
<rect x="210.75" y="427.8" width="17.95" height="2.8" fill="#ffffff"/>
<rect x="254" y="509.25" width="16.35" height="28.75" fill="#cbcbcb" stroke="#404040" stroke-width="0.55"/>
<rect x="270.35" y="494.5" width="16.35" height="43.5" fill="#d9774d" stroke="#404040" stroke-width="0.55"/>
<rect x="286.7" y="444.25" width="16.35" height="93.75" fill="#f5d6a5" stroke="#404040" stroke-width="0.55"/>
<text x="305.93" y="531.5" font-size="10.23" fill="#5fb0c8" stroke="#5fb0c8" stroke-width="0.1" textLength="16.6" lengthAdjust="spacingAndGlyphs">N/A</text>
<line x1="59.5" y1="400.4" x2="59.5" y2="538.5" stroke="#262626" stroke-width="1"/>
<line x1="331.5" y1="400.4" x2="331.5" y2="538.5" stroke="#262626" stroke-width="1"/>
<line x1="59.5" y1="400.9" x2="331.5" y2="400.9" stroke="#262626" stroke-width="1"/>
<line x1="59.5" y1="538" x2="331.5" y2="538" stroke="#262626" stroke-width="1"/>
<rect x="58.3" y="428.1" width="2.4" height="2.2" fill="#ffffff"/>
<line x1="54.4" y1="430.1" x2="64.6" y2="425.3" stroke="#000" stroke-width="1.1"/>
<line x1="54.4" y1="433.1" x2="64.6" y2="428.3" stroke="#000" stroke-width="1.1"/>
<rect x="330.3" y="428.1" width="2.4" height="2.2" fill="#ffffff"/>
<line x1="326.4" y1="430.1" x2="336.6" y2="425.3" stroke="#000" stroke-width="1.1"/>
<line x1="326.4" y1="433.1" x2="336.6" y2="428.3" stroke="#000" stroke-width="1.1"/>
<line x1="56.4" y1="538" x2="59.5" y2="538" stroke="#262626" stroke-width="0.9"/>
<text x="45.87" y="542.5" font-size="12.57" fill="#000" stroke="#000" stroke-width="0.36" textLength="7.63" lengthAdjust="spacingAndGlyphs">0</text>
<line x1="56.4" y1="489.25" x2="59.5" y2="489.25" stroke="#262626" stroke-width="0.9"/>
<text x="22.96" y="493.75" font-size="12.57" fill="#000" stroke="#000" stroke-width="0.36" textLength="30.54" lengthAdjust="spacingAndGlyphs">2000</text>
<line x1="56.4" y1="440" x2="59.5" y2="440" stroke="#262626" stroke-width="0.9"/>
<text x="22.96" y="444.5" font-size="12.57" fill="#000" stroke="#000" stroke-width="0.36" textLength="30.54" lengthAdjust="spacingAndGlyphs">4000</text>
<line x1="56.4" y1="415" x2="59.5" y2="415" stroke="#262626" stroke-width="0.9"/>
<text x="22.96" y="419.5" font-size="12.57" fill="#000" stroke="#000" stroke-width="0.36" textLength="30.54" lengthAdjust="spacingAndGlyphs">5000</text>
<line x1="56.4" y1="402" x2="59.5" y2="402" stroke="#262626" stroke-width="0.9"/>
<text x="22.96" y="406.5" font-size="12.57" fill="#000" stroke="#000" stroke-width="0.36" textLength="30.54" lengthAdjust="spacingAndGlyphs">5500</text>
<line x1="103.95" y1="538" x2="103.95" y2="541.1" stroke="#262626" stroke-width="0.9"/>
<text x="90.88" y="554.7" font-size="14.11" fill="#000" stroke="#000" stroke-width="0.36" textLength="26.15" lengthAdjust="spacingAndGlyphs">128</text>
<line x1="195.2" y1="538" x2="195.2" y2="541.1" stroke="#262626" stroke-width="0.9"/>
<text x="182.13" y="554.7" font-size="14.11" fill="#000" stroke="#000" stroke-width="0.36" textLength="26.15" lengthAdjust="spacingAndGlyphs">256</text>
<line x1="286.7" y1="538" x2="286.7" y2="541.1" stroke="#262626" stroke-width="0.9"/>
<text x="273.63" y="554.7" font-size="14.11" fill="#000" stroke="#000" stroke-width="0.36" textLength="26.15" lengthAdjust="spacingAndGlyphs">512</text>
<text x="133.18" y="571.75" font-size="14.11" fill="#000" stroke="#000" stroke-width="0.36" textLength="124.64" lengthAdjust="spacingAndGlyphs">Number of Agents</text>
<text transform="translate(17.0 485.6) rotate(-90)" x="-22.5" y="0" font-size="14.11" fill="#000" stroke="#000" stroke-width="0.36" textLength="45" lengthAdjust="spacingAndGlyphs">JCT (s)</text>
<line x1="376.25" y1="487.5" x2="648.75" y2="487.5" stroke="#e9e9e9" stroke-width="0.8"/>
<line x1="376.25" y1="436.25" x2="648.75" y2="436.25" stroke="#e9e9e9" stroke-width="0.8"/>
<line x1="376.25" y1="422" x2="648.75" y2="422" stroke="#e9e9e9" stroke-width="0.8"/>
<line x1="376.25" y1="406.25" x2="648.75" y2="406.25" stroke="#e9e9e9" stroke-width="0.8"/>
<rect x="388.5" y="527.5" width="16.35" height="10.5" fill="#cbcbcb" stroke="#404040" stroke-width="0.55"/>
<rect x="404.85" y="521.25" width="16.35" height="16.75" fill="#d9774d" stroke="#404040" stroke-width="0.55"/>
<rect x="421.2" y="511.75" width="16.35" height="26.25" fill="#f5d6a5" stroke="#404040" stroke-width="0.55"/>
<rect x="437.55" y="506.5" width="16.35" height="31.5" fill="#62b4ca" stroke="#404040" stroke-width="0.55"/>
<rect x="479.8" y="522.5" width="16.35" height="15.5" fill="#cbcbcb" stroke="#404040" stroke-width="0.55"/>
<rect x="496.15" y="514" width="16.35" height="24" fill="#d9774d" stroke="#404040" stroke-width="0.55"/>
<rect x="512.5" y="489.25" width="16.35" height="48.75" fill="#f5d6a5" stroke="#404040" stroke-width="0.55"/>
<rect x="528.85" y="414.25" width="16.35" height="123.75" fill="#62b4ca" stroke="#404040" stroke-width="0.55"/>
<rect x="528.05" y="427.8" width="17.95" height="2.8" fill="#ffffff"/>
<rect x="571.25" y="511.5" width="16.35" height="26.5" fill="#cbcbcb" stroke="#404040" stroke-width="0.55"/>
<rect x="587.6" y="492.25" width="16.35" height="45.75" fill="#d9774d" stroke="#404040" stroke-width="0.55"/>
<rect x="603.95" y="444.25" width="16.35" height="93.75" fill="#f5d6a5" stroke="#404040" stroke-width="0.55"/>
<text x="623.17" y="531.5" font-size="10.23" fill="#5fb0c8" stroke="#5fb0c8" stroke-width="0.1" textLength="16.6" lengthAdjust="spacingAndGlyphs">N/A</text>
<line x1="376.25" y1="400.4" x2="376.25" y2="538.5" stroke="#262626" stroke-width="1"/>
<line x1="648.75" y1="400.4" x2="648.75" y2="538.5" stroke="#262626" stroke-width="1"/>
<line x1="376.25" y1="400.9" x2="648.75" y2="400.9" stroke="#262626" stroke-width="1"/>
<line x1="376.25" y1="538" x2="648.75" y2="538" stroke="#262626" stroke-width="1"/>
<rect x="375.05" y="428.1" width="2.4" height="2.2" fill="#ffffff"/>
<line x1="371.15" y1="430.1" x2="381.35" y2="425.3" stroke="#000" stroke-width="1.1"/>
<line x1="371.15" y1="433.1" x2="381.35" y2="428.3" stroke="#000" stroke-width="1.1"/>
<rect x="647.55" y="428.1" width="2.4" height="2.2" fill="#ffffff"/>
<line x1="643.65" y1="430.1" x2="653.85" y2="425.3" stroke="#000" stroke-width="1.1"/>
<line x1="643.65" y1="433.1" x2="653.85" y2="428.3" stroke="#000" stroke-width="1.1"/>
<line x1="373.15" y1="538" x2="376.25" y2="538" stroke="#262626" stroke-width="0.9"/>
<text x="362.62" y="542.5" font-size="12.57" fill="#000" stroke="#000" stroke-width="0.36" textLength="7.63" lengthAdjust="spacingAndGlyphs">0</text>
<line x1="373.15" y1="487.5" x2="376.25" y2="487.5" stroke="#262626" stroke-width="0.9"/>
<text x="339.71" y="492" font-size="12.57" fill="#000" stroke="#000" stroke-width="0.36" textLength="30.54" lengthAdjust="spacingAndGlyphs">5000</text>
<line x1="373.15" y1="436.25" x2="376.25" y2="436.25" stroke="#262626" stroke-width="0.9"/>
<text x="332.07" y="440.75" font-size="12.57" fill="#000" stroke="#000" stroke-width="0.36" textLength="38.17" lengthAdjust="spacingAndGlyphs">10000</text>
<line x1="373.15" y1="422" x2="376.25" y2="422" stroke="#262626" stroke-width="0.9"/>
<text x="332.07" y="426.5" font-size="12.57" fill="#000" stroke="#000" stroke-width="0.36" textLength="38.17" lengthAdjust="spacingAndGlyphs">16000</text>
<line x1="373.15" y1="406.25" x2="376.25" y2="406.25" stroke="#262626" stroke-width="0.9"/>
<text x="332.07" y="410.75" font-size="12.57" fill="#000" stroke="#000" stroke-width="0.36" textLength="38.17" lengthAdjust="spacingAndGlyphs">18000</text>
<line x1="421.2" y1="538" x2="421.2" y2="541.1" stroke="#262626" stroke-width="0.9"/>
<text x="408.13" y="554.7" font-size="14.11" fill="#000" stroke="#000" stroke-width="0.36" textLength="26.15" lengthAdjust="spacingAndGlyphs">128</text>
<line x1="512.5" y1="538" x2="512.5" y2="541.1" stroke="#262626" stroke-width="0.9"/>
<text x="499.43" y="554.7" font-size="14.11" fill="#000" stroke="#000" stroke-width="0.36" textLength="26.15" lengthAdjust="spacingAndGlyphs">256</text>
<line x1="603.95" y1="538" x2="603.95" y2="541.1" stroke="#262626" stroke-width="0.9"/>
<text x="590.88" y="554.7" font-size="14.11" fill="#000" stroke="#000" stroke-width="0.36" textLength="26.15" lengthAdjust="spacingAndGlyphs">512</text>
<text x="450.18" y="571.75" font-size="14.11" fill="#000" stroke="#000" stroke-width="0.36" textLength="124.64" lengthAdjust="spacingAndGlyphs">Number of Agents</text>
<line x1="693.5" y1="500.5" x2="966.25" y2="500.5" stroke="#e9e9e9" stroke-width="0.8"/>
<line x1="693.5" y1="462.5" x2="966.25" y2="462.5" stroke="#e9e9e9" stroke-width="0.8"/>
<line x1="693.5" y1="425" x2="966.25" y2="425" stroke="#e9e9e9" stroke-width="0.8"/>
<line x1="693.5" y1="414.25" x2="966.25" y2="414.25" stroke="#e9e9e9" stroke-width="0.8"/>
<line x1="693.5" y1="402.8" x2="966.25" y2="402.8" stroke="#e9e9e9" stroke-width="0.8"/>
<rect x="706" y="515.5" width="16.35" height="22.5" fill="#cbcbcb" stroke="#404040" stroke-width="0.55"/>
<rect x="722.35" y="506.5" width="16.35" height="31.5" fill="#d9774d" stroke="#404040" stroke-width="0.55"/>
<rect x="738.7" y="502.5" width="16.35" height="35.5" fill="#f5d6a5" stroke="#404040" stroke-width="0.55"/>
<rect x="755.05" y="483.25" width="16.35" height="54.75" fill="#62b4ca" stroke="#404040" stroke-width="0.55"/>
<rect x="797" y="512.5" width="16.35" height="25.5" fill="#cbcbcb" stroke="#404040" stroke-width="0.55"/>
<rect x="813.35" y="500" width="16.35" height="38" fill="#d9774d" stroke="#404040" stroke-width="0.55"/>
<rect x="829.7" y="488.25" width="16.35" height="49.75" fill="#f5d6a5" stroke="#404040" stroke-width="0.55"/>
<rect x="846.05" y="468" width="16.35" height="70" fill="#62b4ca" stroke="#404040" stroke-width="0.55"/>
<rect x="888.25" y="507.25" width="16.35" height="30.75" fill="#cbcbcb" stroke="#404040" stroke-width="0.55"/>
<rect x="904.6" y="485.25" width="16.35" height="52.75" fill="#d9774d" stroke="#404040" stroke-width="0.55"/>
<rect x="920.95" y="444.25" width="16.35" height="93.75" fill="#f5d6a5" stroke="#404040" stroke-width="0.55"/>
<rect x="937.3" y="414.25" width="16.35" height="123.75" fill="#62b4ca" stroke="#404040" stroke-width="0.55"/>
<rect x="936.5" y="427.8" width="17.95" height="2.8" fill="#ffffff"/>
<line x1="693.5" y1="400.4" x2="693.5" y2="538.5" stroke="#262626" stroke-width="1"/>
<line x1="966.25" y1="400.4" x2="966.25" y2="538.5" stroke="#262626" stroke-width="1"/>
<line x1="693.5" y1="400.9" x2="966.25" y2="400.9" stroke="#262626" stroke-width="1"/>
<line x1="693.5" y1="538" x2="966.25" y2="538" stroke="#262626" stroke-width="1"/>
<rect x="692.3" y="428.1" width="2.4" height="2.2" fill="#ffffff"/>
<line x1="688.4" y1="430.1" x2="698.6" y2="425.3" stroke="#000" stroke-width="1.1"/>
<line x1="688.4" y1="433.1" x2="698.6" y2="428.3" stroke="#000" stroke-width="1.1"/>
<rect x="965.05" y="428.1" width="2.4" height="2.2" fill="#ffffff"/>
<line x1="961.15" y1="430.1" x2="971.35" y2="425.3" stroke="#000" stroke-width="1.1"/>
<line x1="961.15" y1="433.1" x2="971.35" y2="428.3" stroke="#000" stroke-width="1.1"/>
<line x1="690.4" y1="538" x2="693.5" y2="538" stroke="#262626" stroke-width="0.9"/>
<text x="679.87" y="542.5" font-size="12.57" fill="#000" stroke="#000" stroke-width="0.36" textLength="7.63" lengthAdjust="spacingAndGlyphs">0</text>
<line x1="690.4" y1="500.5" x2="693.5" y2="500.5" stroke="#262626" stroke-width="0.9"/>
<text x="656.96" y="505" font-size="12.57" fill="#000" stroke="#000" stroke-width="0.36" textLength="30.54" lengthAdjust="spacingAndGlyphs">2000</text>
<line x1="690.4" y1="462.5" x2="693.5" y2="462.5" stroke="#262626" stroke-width="0.9"/>
<text x="656.96" y="467" font-size="12.57" fill="#000" stroke="#000" stroke-width="0.36" textLength="30.54" lengthAdjust="spacingAndGlyphs">4000</text>
<line x1="690.4" y1="425" x2="693.5" y2="425" stroke="#262626" stroke-width="0.9"/>
<text x="656.96" y="429.5" font-size="12.57" fill="#000" stroke="#000" stroke-width="0.36" textLength="30.54" lengthAdjust="spacingAndGlyphs">5500</text>
<line x1="690.4" y1="414.25" x2="693.5" y2="414.25" stroke="#262626" stroke-width="0.9"/>
<text x="656.96" y="418.75" font-size="12.57" fill="#000" stroke="#000" stroke-width="0.36" textLength="30.54" lengthAdjust="spacingAndGlyphs">6000</text>
<line x1="690.4" y1="402.8" x2="693.5" y2="402.8" stroke="#262626" stroke-width="0.9"/>
<text x="656.96" y="407.3" font-size="12.57" fill="#000" stroke="#000" stroke-width="0.36" textLength="30.54" lengthAdjust="spacingAndGlyphs">6500</text>
<line x1="738.7" y1="538" x2="738.7" y2="541.1" stroke="#262626" stroke-width="0.9"/>
<text x="729.98" y="554.7" font-size="14.11" fill="#000" stroke="#000" stroke-width="0.36" textLength="17.43" lengthAdjust="spacingAndGlyphs">32</text>
<line x1="829.7" y1="538" x2="829.7" y2="541.1" stroke="#262626" stroke-width="0.9"/>
<text x="820.98" y="554.7" font-size="14.11" fill="#000" stroke="#000" stroke-width="0.36" textLength="17.43" lengthAdjust="spacingAndGlyphs">64</text>
<line x1="920.95" y1="538" x2="920.95" y2="541.1" stroke="#262626" stroke-width="0.9"/>
<text x="907.88" y="554.7" font-size="14.11" fill="#000" stroke="#000" stroke-width="0.36" textLength="26.15" lengthAdjust="spacingAndGlyphs">128</text>
<text x="767.55" y="571.75" font-size="14.11" fill="#000" stroke="#000" stroke-width="0.36" textLength="124.64" lengthAdjust="spacingAndGlyphs">Number of Agents</text>
</svg>
</body></html>
